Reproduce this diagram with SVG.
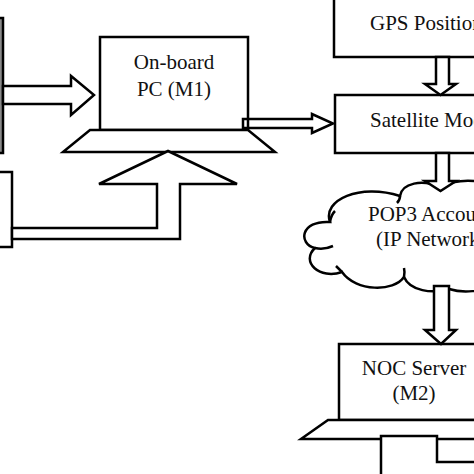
<svg xmlns="http://www.w3.org/2000/svg" width="474" height="474" viewBox="0 0 474 474">
<style>
.s{fill:#fff;stroke:#000;stroke-width:2.5;stroke-linejoin:miter}
.n{fill:none;stroke:#000;stroke-width:2.5}
.t{font-family:"Liberation Serif","Times New Roman",serif;font-size:21px;fill:#111}
</style>
<rect width="474" height="474" fill="#fff"/>
<g id="left-device">
<rect class="s" x="-6" y="18" width="9" height="135" style="fill:#8a8a8a"/>
</g>
<g id="left-box">
<rect class="s" x="-6" y="172" width="18" height="75"/>
</g>
<g id="pc">
<rect class="s" x="100" y="37" width="148" height="93"/>
<polygon class="s" points="90,130 248,130 275,152 63,152"/>
<text class="t" x="174" y="69" text-anchor="middle">On-board</text>
<text class="t" x="174" y="96" text-anchor="middle">PC (M1)</text>
</g>
<g id="gps">
<rect class="s" x="334" y="-5" width="160" height="62"/>
<text class="t" x="370" y="30">GPS Positioning</text>
</g>
<g id="satellite">
<rect class="s" x="335" y="95" width="160" height="58"/>
<text class="t" x="370" y="127">Satellite Modem</text>
</g>
<g id="cloud">
<path class="s" d="M330,222 C322,200 360,183 400,196 C402,183 422,179 440,187 C456,179 480,178 495,188 L498,282 C482,293 462,293 449,289 C432,294 410,291 404,277 C394,292 356,292 342,272 C320,280 300,262 315,248 C298,244 300,220 330,222 Z"/>
<path class="n" d="M315,248 Q324,250 333,246 M330,222 Q331,215 335,211 M400,196 Q400,200 397,203 M342,272 Q338,268 336,266 M404,277 Q405,272 404,268"/>
<text class="t" x="368" y="221">POP3 Account</text>
<text class="t" x="376" y="246">(IP Network)</text>
</g>
<g id="noc">
<rect class="s" x="339" y="344" width="155" height="76"/>
<polygon class="s" points="328,420 500,420 500,439 301,439"/>
<text class="t" x="414" y="375" text-anchor="middle">NOC Server</text>
<text class="t" x="414" y="400" text-anchor="middle">(M2)</text>
<polygon class="s" points="381,490 381,436 437,436 437,462 495,462 495,490"/>
</g>
<g id="connectors">
<polygon class="s" points="3,86 71,86 71,76 94,95 71,115 71,104 3,104"/>
<polygon class="s" points="12,228 157,228 157,184 99,184 168,151 237,184 180,184 180,239 12,239"/>
<polygon class="n" points="243,119 312,119 312,114 333,123.5 312,133 312,128 243,128"/>
<polygon class="s" points="436,57 436,84 425,84 440.5,95 456,84 449,84 449,57"/>
<polygon class="s" points="436,153 436,181 425,181 440.5,191 456,181 449,181 449,153"/>
<polygon class="s" points="434,286 434,330 425,330 441,344 456,330 449,330 449,286"/>
</g>
</svg>
